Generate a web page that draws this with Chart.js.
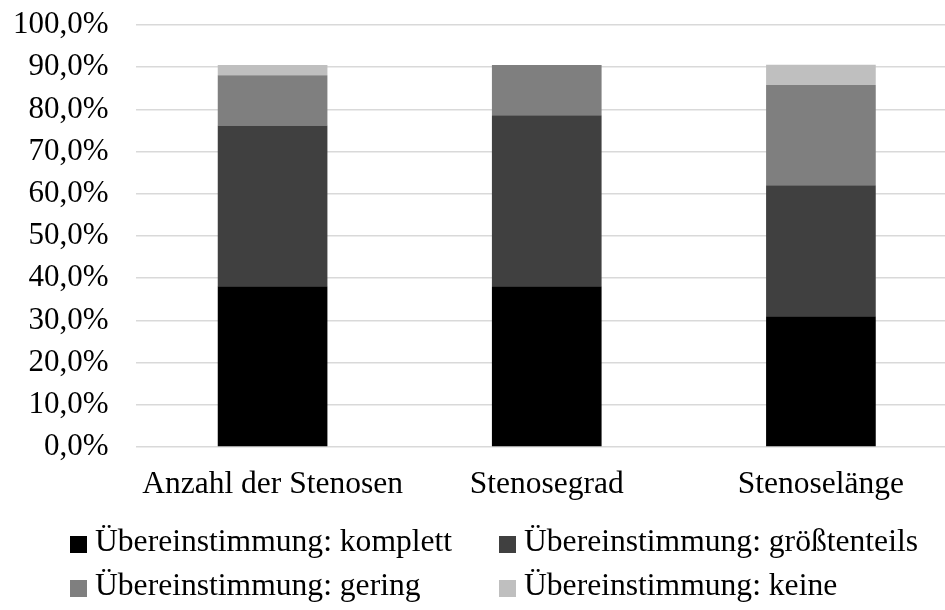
<!DOCTYPE html>
<html>
<head>
<meta charset="utf-8">
<script src="https://cdn.jsdelivr.net/npm/chart.js@4/dist/chart.umd.min.js"></script>
<style>
  html, body { margin: 0; padding: 0; background: #fff; overflow: hidden; }
  #wrap { position: relative; width: 945px; height: 610px; overflow: hidden; }
  #inner { position: absolute; left: 0; top: 0; width: 958px; height: 610px; }
  .lg { position: absolute; font-family: "Liberation Serif", "Times New Roman", serif; font-size: 31.6px; color: #000; white-space: nowrap; line-height: 1; }
  .lg span.box { position: absolute; width: 17px; height: 17px; left: 0; }
  .lg span.txt { position: absolute; left: 25px; }
</style>
</head>
<body>
<div id="wrap">
  <div id="inner"><canvas id="c" width="958" height="610"></canvas></div>
  <div id="legend"></div>
</div>
<script>
const categories = ["Anzahl der Stenosen", "Stenosegrad", "Stenoselänge"];
const seriesNames = ["Übereinstimmung: komplett", "Übereinstimmung: größtenteils", "Übereinstimmung: gering", "Übereinstimmung: keine"];
const komplett = [38.1, 38.1, 31.0];
const groesstenteils = [38.1, 40.5, 31.0];
const gering = [11.9, 11.9, 23.8];
const keine = [2.4, 0, 4.8];
const colors = ["#000000", "#404040", "#7f7f7f", "#bfbfbf"];
const yTicks = [0, 10, 20, 30, 40, 50, 60, 70, 80, 90, 100];

const allSeries = [komplett, groesstenteils, gering, keine];
const FONT = "'Liberation Serif', 'Times New Roman', serif";

const chart = new Chart(document.getElementById('c'), {
  type: 'bar',
  data: {
    labels: categories,
    datasets: allSeries.map((d, i) => ({
      label: seriesNames[i],
      data: d,
      backgroundColor: colors[i],
      borderWidth: 0,
      categoryPercentage: 1.0,
      barPercentage: 0.4
    }))
  },
  options: {
    responsive: false,
    animation: false,
    layout: { padding: { top: 25, left: 0, right: 0, bottom: 0 } },
    plugins: { legend: { display: false }, tooltip: { enabled: false } },
    scales: {
      x: {
        stacked: true,
        grid: { display: false, drawTicks: false },
        border: { display: false },
        ticks: { color: '#000', font: { family: FONT, size: 31.5 }, padding: 19, autoSkip: false, maxRotation: 0 },
        afterFit: (s) => { s.height = 610 - 447; s.paddingLeft = 0; s.paddingRight = 0; }
      },
      y: {
        stacked: true,
        min: 0,
        max: 100,
        afterBuildTicks: (s) => { s.ticks = yTicks.map(v => ({ value: v })); },
        grid: { color: '#d9d9d9', lineWidth: 1.5, drawTicks: false },
        border: { display: false },
        ticks: {
          color: '#000',
          autoSkip: false,
          font: { family: FONT, size: 31 },
          padding: 27,
          callback: (v) => v.toFixed(1).replace('.', ',') + '%'
        },
        afterFit: (s) => { s.width = 135.5; s.paddingTop = 0; s.paddingBottom = 0; }
      }
    }
  }
});

// Legend (HTML, two aligned columns)
const legendPos = [[70, 536], [499, 536], [70, 580], [499, 580]];
const lg = document.getElementById('legend');
seriesNames.forEach((name, i) => {
  const d = document.createElement('div');
  d.className = 'lg';
  d.style.left = legendPos[i][0] + 'px';
  d.style.top = legendPos[i][1] + 'px';
  const b = document.createElement('span');
  b.className = 'box';
  b.style.background = colors[i];
  b.style.top = '0px';
  const t = document.createElement('span');
  t.className = 'txt';
  t.style.top = '-11px';
  t.textContent = name;
  d.appendChild(b); d.appendChild(t);
  lg.appendChild(d);
});
</script>
</body>
</html>
